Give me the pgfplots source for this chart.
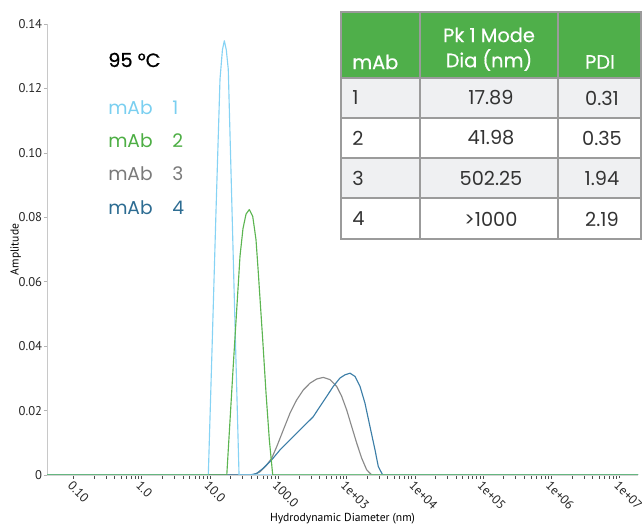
\documentclass[border=0pt]{standalone}
\usepackage{fontspec}
\setmainfont{PT Sans}
\newfontfamily\pop{Poppins}
\newfontfamily\popb{Poppins}[FakeBold=0.8]
\newfontfamily\poph{Poppins}[FakeBold=0.5]
\usepackage{pgfplots}
\pgfplotsset{compat=1.18}
\definecolor{mabone}{HTML}{86D3F4}
\definecolor{mabtwo}{HTML}{5CB551}
\definecolor{mabthree}{HTML}{8A8A8A}
\definecolor{mabfour}{HTML}{3C7EA7}
\definecolor{txtone}{HTML}{7ACFF0}
\definecolor{txttwo}{HTML}{4DAE44}
\definecolor{txtthree}{HTML}{7A7A7A}
\definecolor{txtfour}{HTML}{2D6C92}
\definecolor{tabgreen}{HTML}{4FAF4A}
\definecolor{rowgray}{HTML}{EFF0F2}
\definecolor{tabline}{HTML}{9B9B9B}
\definecolor{axisgray}{HTML}{C8C8C8}

\begin{document}
\begin{tikzpicture}
\useasboundingbox (0,0) rectangle (481.5pt,395.25pt);
\begin{axis}[
  at={(35.25pt,39pt)}, anchor=south west,
  scale only axis, width=443.25pt, height=338.25pt,
  xmode=log, xmin=0.041, xmax=1.85e7,
  ymin=0, ymax=0.14,
  axis lines*=left,
  x axis line style={draw=axisgray!80, line width=1.8pt},
  y axis line style={draw=axisgray, line width=0.6pt},
  tick align=outside,
  major tick length=2.5pt,
  xtick={0.1,1,10,100,1000,10000,100000,1000000,10000000},
  xticklabels={0.10,1.0,10.0,100.0,1e+03,1e+04,1e+05,1e+06,1e+07},
  ytick={0,0.02,0.04,0.06,0.08,0.10,0.12,0.14},
  yticklabels={0,0.02,0.04,0.06,0.08,0.10,0.12,0.14},
  minor xtick={},
  x tick style={draw=black!70, line width=0.5pt},
  y tick style={draw=axisgray!90!black, line width=0.5pt},
  xticklabel style={rotate=-45, anchor=north west, font=\fontsize{9.5}{10}\selectfont, text=black!85, inner sep=1pt},
  yticklabel style={font=\fontsize{9.5}{10}\selectfont, text=black!85, inner xsep=1pt},
  xlabel={Hydrodynamic Diameter (nm)},
  ylabel={Amplitude},
  every axis x label/.style={at={(axis description cs:0.5,0)}, anchor=center, yshift=-33pt, font=\fontsize{8.7}{10}\selectfont},
  every axis y label/.style={at={(axis description cs:0,0.5)}, anchor=center, xshift=-23.5pt, rotate=90, font=\fontsize{8.7}{10}\selectfont},
  line join=round,
]
% mAb 3
\addplot[color=mabthree, line width=0.85pt] coordinates {
  (0.041,0) (43.1,0) (54.0,0.0010) (67.6,0.0031) (80.0,0.0052) (94.8,0.0088)
  (118.4,0.0140) (148.3,0.0192) (185.6,0.0233) (232.5,0.0264) (291,0.0285)
  (365,0.0298) (456,0.0303) (571,0.0296) (716,0.0275) (848,0.0244)
  (1002,0.0202) (1188,0.0150) (1406,0.0099) (1664,0.0052) (1968,0.0016)
  (2332,0) (1.85e7,0)
};
% mAb 4
\addplot[color=mabfour, line width=0.85pt] coordinates {
  (0.041,0) (38.5,0) (48.3,0.0005) (60.3,0.0021) (80.0,0.0047) (105.9,0.0078)
  (148.3,0.0109) (208,0.0140) (325,0.0181) (408,0.0213) (511,0.0244)
  (638,0.0275) (800,0.0301) (948,0.0311) (1122,0.0316) (1328,0.0306)
  (1572,0.0275) (1858,0.0223) (2201,0.0150) (2606,0.0078) (2913,0.0026)
  (3378,0) (1.85e7,0)
};
% mAb 1
\addplot[color=mabone, line width=0.85pt] coordinates {
  (0.041,0) (9.44,0) (10.7,0.039) (12.2,0.081) (14.0,0.1229) (15.2,0.132)
  (16.2,0.1348) (17.3,0.132) (18.5,0.126) (20.3,0.094) (23.2,0.047)
  (26.6,0) (1.85e7,0)
};
% mAb 2
\addplot[color=mabtwo, line width=0.85pt] coordinates {
  (0.041,0) (17.6,0) (21.9,0.034) (27.5,0.068) (30.4,0.0765) (33.7,0.0810)
  (37.6,0.0824) (42.2,0.0803) (47.1,0.0731) (50.5,0.0640) (59.1,0.0420)
  (66.1,0.0254) (73.9,0.0109) (82.8,0) (1.85e7,0)
};
\end{axis}

\begin{scope}[x=0.75pt, y=-0.75pt, shift={(0pt,395.25pt)}]
  % legend text
  \node[anchor=west, inner sep=0pt, text=black] at (108,60) {\popb\fontsize{14.5}{16}\selectfont 95 °C};
  \node[anchor=west, inner sep=0pt, text=txtone] at (108,108) {\pop\fontsize{14}{16}\selectfont mAb};
  \node[anchor=west, inner sep=0pt, text=txtone] at (172,108) {\pop\fontsize{14}{16}\selectfont 1};
  \node[anchor=west, inner sep=0pt, text=txttwo] at (108,141) {\pop\fontsize{14}{16}\selectfont mAb};
  \node[anchor=west, inner sep=0pt, text=txttwo] at (172,141) {\pop\fontsize{14}{16}\selectfont 2};
  \node[anchor=west, inner sep=0pt, text=txtthree] at (108,174) {\pop\fontsize{14}{16}\selectfont mAb};
  \node[anchor=west, inner sep=0pt, text=txtthree] at (172,174) {\pop\fontsize{14}{16}\selectfont 3};
  \node[anchor=west, inner sep=0pt, text=txtfour] at (108,208) {\pop\fontsize{14}{16}\selectfont mAb};
  \node[anchor=west, inner sep=0pt, text=txtfour] at (172,208) {\pop\fontsize{14}{16}\selectfont 4};

  % table
  \fill[white] (341,12) rectangle (641,239);
  \fill[tabgreen] (341,12) rectangle (641,78);
  \fill[rowgray] (341,78) rectangle (641,118);
  \fill[rowgray] (341,158) rectangle (641,198);
  \draw[tabline, line width=1.1pt] (341,12) rectangle (641,239);
  \foreach \yy in {78,118,158,198} \draw[tabline, line width=1.1pt] (341,\yy) -- (641,\yy);
  \foreach \xx in {420,558} \draw[tabline, line width=1.1pt] (\xx,12) -- (\xx,239);

  \begin{scope}[every node/.style={inner sep=0pt, text=white, font=\poph\fontsize{14.5}{15}\selectfont}]
    \node[anchor=west] at (352,62) {mAb};
    \node at (489,35) {Pk 1 Mode};
    \node at (489,60) {Dia (nm)};
    \node at (600,62) {PDI};
  \end{scope}
  \begin{scope}[every node/.style={inner sep=0pt, text=black!80, font=\pop\fontsize{14.5}{15}\selectfont}]
    \node[anchor=west] at (352,98) {1};
    \node[anchor=west] at (352,138) {2};
    \node[anchor=west] at (352,178) {3};
    \node[anchor=west] at (352,219) {4};
    \node at (491,98) {17.89};
    \node at (491,138) {41.98};
    \node at (491,178) {502.25};
    \node at (491,219) {>1000};
    \node at (602,98) {0.31};
    \node at (602,138) {0.35};
    \node at (602,178) {1.94};
    \node at (602,219) {2.19};
  \end{scope}
\end{scope}
\end{tikzpicture}
\end{document}
